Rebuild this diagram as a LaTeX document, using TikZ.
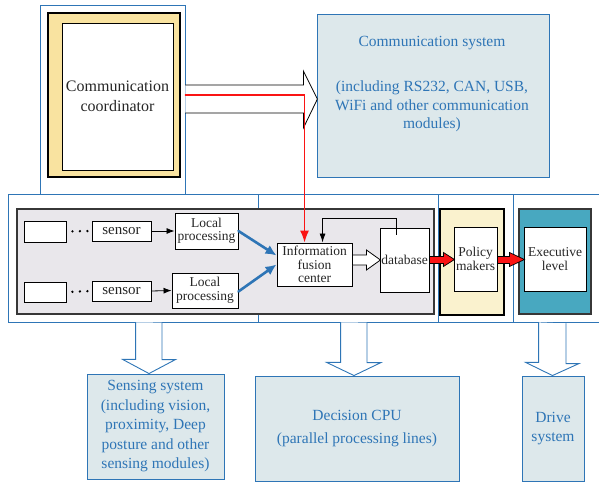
\documentclass[tikz,border=0pt]{standalone}
\usepackage{fontspec}
\setmainfont{Liberation Serif}
\usetikzlibrary{calc,arrows.meta}
\definecolor{lineblue}{RGB}{46,117,182}
\definecolor{paleblue}{RGB}{221,232,235}
\definecolor{panelgray}{RGB}{233,231,235}
\definecolor{darkrim}{RGB}{55,55,55}
\definecolor{goldfill}{RGB}{249,227,160}
\definecolor{creamfill}{RGB}{250,242,206}
\definecolor{tealfill}{RGB}{72,168,192}
\definecolor{arrowred}{RGB}{250,20,20}
\tikzset{
  frame/.style={draw=lineblue,line width=0.8pt,inner sep=0pt},
  sysbox/.style={draw=lineblue,fill=paleblue,line width=0.9pt,inner sep=0pt,
    text=lineblue,align=center,font=\rmfamily\fontsize{15.5}{19.5}\selectfont},
  panel/.style={draw=darkrim,line width=1.5pt,inner sep=0pt},
  unit/.style={draw=black,fill=white,line width=0.9pt,inner sep=0pt,align=center,
    text=black!85,font=\rmfamily\fontsize{13.5}{13.5}\selectfont},
  dotrow/.style={line width=2.6pt,dash pattern=on 0pt off 7.5pt,shorten <=6pt,shorten >=3pt},
  hollow/.style={draw=black,fill=white,line width=0.8pt,line join=miter},
  bluehollow/.style={draw=lineblue,fill=white,line width=0.9pt,line join=miter},
  fatred/.style={draw=black,fill=arrowred,line width=0.7pt,line join=miter}
}
\begin{document}
\begin{tikzpicture}[x=1pt,y=-1pt,line cap=round]
  \useasboundingbox (0,0) rectangle (599,486);
  % communication coordinator
  \node[frame,minimum width=145,minimum height=189] (cframe) at (112.5,99.5) {};
  \node[panel,draw=black,fill=goldfill,minimum width=132,minimum height=164] (cgold) at (114,95) {};
  \node[unit,minimum width=111,minimum height=147,font=\rmfamily\fontsize{16}{20}\selectfont] (coord) at (117.5,96.5)
    {Communication\\coordinator};
  % communication system
  \node[sysbox,minimum width=232,minimum height=163] (csys) at (433,95.5) {};
  \node[text=lineblue,align=center,font=\rmfamily\fontsize{15.5}{18.5}\selectfont] (csystext) at (432,84)
    {Communication system\\[27pt](including RS232, CAN, USB,\\WiFi and other communication\\modules)};
  \draw[hollow] ($(cframe.east)+(0,-14.5)$) -- ++(118,0) -- ++(0,-14) -- ++(14,28)
    -- ++(-14,29) -- ++(0,-15) -- ++(-118,0);
  % blue frames of the middle row
  \node[frame,minimum width=250,minimum height=128] (srow) at (133,258) {};
  \node[frame,minimum width=180,minimum height=128] (drow) at (348,258) {};
  \node[frame,minimum width=75,minimum height=128] (prow) at (475.5,258) {};
  \node[frame,minimum width=92,minimum height=128] (erow) at (559,258) {};
  \node[panel,fill=panelgray,minimum width=417,minimum height=105] (gray) at (225.5,261.5) {};
  \node[panel,draw=black,fill=creamfill,minimum width=64,minimum height=106] (pcream) at (472,262) {};
  \node[panel,fill=tealfill,minimum width=72,minimum height=105] (eteal) at (555,261.5) {};
  % sensing chain
  \node[unit,minimum width=42,minimum height=21] (e1) at (45,231.5) {};
  \node[unit,minimum width=42,minimum height=20] (e2) at (45,292) {};
  \node[unit,minimum width=59,minimum height=20,font=\rmfamily\fontsize{15}{15}\selectfont] (s1) at (121.5,231) {sensor};
  \node[unit,minimum width=59,minimum height=20,font=\rmfamily\fontsize{15}{15}\selectfont] (s2) at (121.5,291) {sensor};
  \node[unit,minimum width=63,minimum height=36] (l1) at (206.5,231) {Local\\processing};
  \node[unit,minimum width=66,minimum height=35] (l2) at (205,290.5) {Local\\processing};
  \node[unit,minimum width=75,minimum height=43] (fusion) at (314.5,264.5) {Information\\fusion\\center};
  \node[unit,minimum width=49,minimum height=64] (db) at (404.5,260) {database};
  \node[unit,minimum width=43,minimum height=64] (policy) at (475.5,259) {Policy\\makers};
  \node[unit,minimum width=62,minimum height=64] (exec) at (555,259) {Executive\\level};
  \draw[dotrow] (e1.east) -- (s1.west);
  \draw[dotrow] (e2.east) -- (s2.west);
  \draw[-{Latex[length=8pt,width=6pt]},line width=0.8pt] (s1.east) -- (l1.west);
  \draw[-{Latex[length=8pt,width=6pt]},line width=0.8pt] (s2.east) -- (l2.west);
  \draw[lineblue,line width=2.6pt,-{Latex[length=11pt,width=10pt]}] (l1.east) -- ($(fusion.west)+(0,-9)$);
  \draw[lineblue,line width=2.6pt,-{Latex[length=11pt,width=10pt]}] ($(l2.east)+(0,1)$) -- (fusion.west);
  % red control line
  \draw[arrowred,line width=1.4pt,-{Latex[length=12pt,width=9pt]}] ($(cframe.east)+(0,-4.5)$)
    -| ($(fusion.north west)+(28,0)$);
  % feedback from the database
  \draw[line width=0.9pt,-{Latex[length=9pt,width=6pt]}] ($(db.north west)+(17,7)$) -- ++(0,-16)
    -| ($(fusion.north west)+(46,0)$);
  \draw[hollow] ($(fusion.east)+(0,-9.5)$) -- ++(14,0) -- ++(0,-5) -- ++(14,10) -- ++(-14,10)
    -- ++(0,-5) -- ++(-14,0) -- cycle;
  \draw[fatred] ($(db.east)+(0,-3.5)$) -- ++(14,0) -- ++(0,-4) -- ++(11,7) -- ++(-11,7)
    -- ++(0,-3) -- ++(-14,0) -- cycle;
  \draw[fatred] ($(policy.east)+(0,-2.5)$) -- ++(12,0) -- ++(0,-4) -- ++(15,7) -- ++(-15,7)
    -- ++(0,-3) -- ++(-12,0) -- cycle;
  % output systems
  \node[sysbox,minimum width=137,minimum height=105] (sens) at (155.5,426.5)
    {Sensing system\\(including vision,\\proximity, Deep\\posture and other\\sensing modules)};
  \node[sysbox,minimum width=204,minimum height=105,font=\rmfamily\fontsize{15.5}{23}\selectfont] (dec) at (357,428.5)
    {Decision CPU\\(parallel processing lines)};
  \node[sysbox,minimum width=62,minimum height=105] (drive) at (553,428.5) {Drive\\system};
  \draw[bluehollow] ($(srow.south west)+(128,0)$) -- ++(0,37) -- ++(-13,0) -- (sens.north -| 149,0)
    -- ++(26.5,-14) -- ++(-13.5,0) -- ++(0,-37);
  \draw[bluehollow] ($(drow.south west)+(83,0)$) -- ++(0,40) -- ++(-14,0) -- (dec.north -| 354,0)
    -- ++(27,-13) -- ++(-14,0) -- ++(0,-40);
  \draw[bluehollow] ($(erow.south west)+(26,0)$) -- ++(0,40) -- ++(-13,0) -- (drive.north -| 552.5,0)
    -- ++(26.5,-12) -- ++(-13,0) -- ++(0,-40);
\end{tikzpicture}
\end{document}
